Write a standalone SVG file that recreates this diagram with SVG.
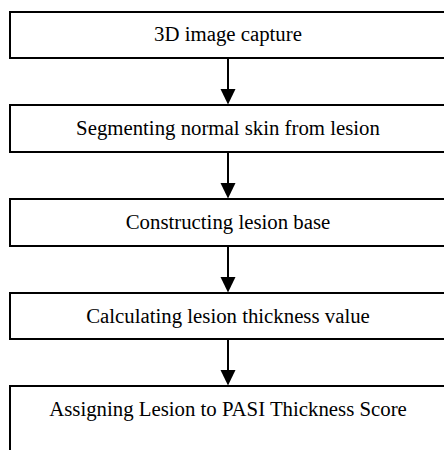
<svg xmlns="http://www.w3.org/2000/svg" width="444" height="450" viewBox="0 0 444 450">
<style>
.box{fill:#fff;stroke:#000;stroke-width:2}
.lbl{font-family:"Liberation Serif","Times New Roman",serif;font-size:20.8px;fill:#000;text-anchor:middle}
.conn line{stroke:#000;stroke-width:2}
.conn polygon{fill:#000}
</style>
<rect width="444" height="450" fill="#fff"/>
<g id="n1"><rect class="box" x="10" y="12" width="436" height="46"/><text class="lbl" x="228" y="41">3D image capture</text></g>
<g id="n2"><rect class="box" x="10" y="105" width="436" height="47"/><text class="lbl" x="228" y="134.5">Segmenting normal skin from lesion</text></g>
<g id="n3"><rect class="box" x="10" y="199" width="436" height="47"/><text class="lbl" x="228" y="228.5">Constructing lesion base</text></g>
<g id="n4"><rect class="box" x="10" y="293" width="436" height="46"/><text class="lbl" x="228" y="322.5">Calculating lesion thickness value</text></g>
<g id="n5"><rect class="box" x="10" y="386" width="436" height="80"/><text class="lbl" x="228" y="415.5">Assigning Lesion to PASI Thickness Score</text></g>
<g id="connectors" class="conn">
<line x1="228" y1="59" x2="228" y2="90"/><polygon points="220.5,89 235.5,89 228,104.5"/>
<line x1="228" y1="153" x2="228" y2="184"/><polygon points="220.5,183 235.5,183 228,198.5"/>
<line x1="228" y1="247" x2="228" y2="278"/><polygon points="220.5,277 235.5,277 228,292.5"/>
<line x1="228" y1="340" x2="228" y2="371"/><polygon points="220.5,370 235.5,370 228,385.5"/>
</g>
</svg>
